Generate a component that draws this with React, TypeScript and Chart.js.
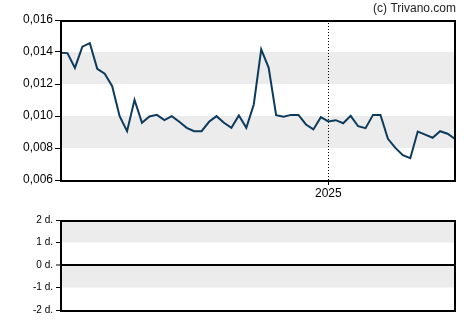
import React, { useEffect, useRef } from "react";
import { Chart, registerables } from "chart.js";

Chart.register(...registerables);

// Weekly closing prices
const priceValues: number[] = [
  0.01395, 0.01393, 0.01301, 0.01433, 0.01455, 0.01295, 0.01264, 0.01186, 0.00999, 0.00905,
  0.01101, 0.00958, 0.00997, 0.01007, 0.00974, 0.00999, 0.00964, 0.00926, 0.00905, 0.00905,
  0.00964, 0.00999, 0.00958, 0.00926, 0.01003, 0.00926, 0.01072, 0.01416, 0.01301, 0.01005,
  0.00995, 0.01007, 0.01007, 0.00947, 0.00916, 0.00993, 0.00966, 0.00974, 0.00955, 0.01001,
  0.00936, 0.00924, 0.01007, 0.01007, 0.00857, 0.00801, 0.00755, 0.00736, 0.00903, 0.00884,
  0.00864, 0.00905, 0.00889, 0.00857,
];
const xTickPositions: number[] = [36];
const xTickLabels: string[] = ["2025"];
const priceBands: [number, number][] = [
  [0.012, 0.014],
  [0.008, 0.01],
];
const lowerBands: [number, number][] = [
  [1, 2],
  [-1, 0],
];
const watermark = "(c) Trivano.com";

const FONT = "'Liberation Sans', Arial, sans-serif";

const bandsPlugin = (bands: [number, number][]) => ({
  id: "bands",
  beforeDraw(chart: any) {
    const { ctx, chartArea } = chart;
    const y = chart.scales.y;
    ctx.save();
    ctx.fillStyle = "#ececec";
    for (const [a, b] of bands) {
      const y1 = y.getPixelForValue(b);
      const y2 = y.getPixelForValue(a);
      ctx.fillRect(chartArea.left, y1, chartArea.right - chartArea.left, y2 - y1);
    }
    ctx.restore();
  },
});

const framePlugin = {
  id: "frame",
  afterDraw(chart: any) {
    const { ctx, chartArea } = chart;
    ctx.save();
    ctx.strokeStyle = "#000";
    ctx.lineWidth = 2;
    const l = Math.round(chartArea.left) + 1;
    const t = Math.round(chartArea.top) + 1;
    const r = Math.round(chartArea.right);
    const b = Math.round(chartArea.bottom) + 1;
    ctx.strokeRect(l, t, r - l, b - t);
    ctx.restore();
  },
};

const watermarkPlugin = {
  id: "watermark",
  afterDraw(chart: any) {
    const { ctx, chartArea } = chart;
    ctx.save();
    ctx.fillStyle = "#222";
    ctx.font = `12px ${FONT}`;
    ctx.textAlign = "right";
    ctx.textBaseline = "middle";
    ctx.fillText(watermark, chartArea.right + 1, 9);
    ctx.restore();
  },
};

export default function App() {
  const topRef = useRef<HTMLCanvasElement>(null);
  const botRef = useRef<HTMLCanvasElement>(null);

  useEffect(() => {
    const top = new Chart(topRef.current!, {
      type: "line",
      data: {
        datasets: [
          {
            data: priceValues.map((v, i) => ({ x: i, y: v })),
            borderColor: "#0d3b5c",
            borderWidth: 2,
            pointRadius: 0,
            tension: 0,
            fill: false,
          },
        ],
      },
      options: {
        animation: false,
        responsive: false,
        layout: { padding: { left: 0, right: 15, top: 20, bottom: 0 } },
        plugins: { legend: { display: false }, tooltip: { enabled: false } },
        scales: {
          x: {
            type: "linear",
            min: 0,
            max: priceValues.length - 1,
            afterBuildTicks: (s: any) => {
              s.ticks = xTickPositions.map((v) => ({ value: v }));
            },
            afterFit: (s: any) => {
              s.height = 20;
            },
            ticks: {
              autoSkip: false,
              maxRotation: 0,
              padding: 1,
              color: "#000",
              font: { family: FONT, size: 12 },
              callback: (v: any) => {
                const i = xTickPositions.indexOf(Number(v));
                return i >= 0 ? xTickLabels[i] : "";
              },
            },
            grid: { color: "#000", lineWidth: 1, drawTicks: true, tickLength: 5 },
            border: { display: true, color: "#000", dash: [1, 2] },
          },
          y: {
            min: 0.006,
            max: 0.016,
            afterFit: (s: any) => {
              s.width = 60;
            },
            ticks: {
              stepSize: 0.002,
              padding: 2,
              color: "#000",
              font: { family: FONT, size: 12 },
              callback: (v: any) => Number(v).toFixed(3).replace(".", ","),
            },
            grid: { drawOnChartArea: false, drawTicks: true, tickLength: 5, color: "#000" },
            border: { display: true, color: "#000" },
          },
        },
      },
      plugins: [bandsPlugin(priceBands), framePlugin, watermarkPlugin],
    } as any);

    const bot = new Chart(botRef.current!, {
      type: "line",
      data: { datasets: [] },
      options: {
        animation: false,
        responsive: false,
        layout: { padding: { left: 0, right: 15, top: 20, bottom: 15 } },
        plugins: { legend: { display: false }, tooltip: { enabled: false } },
        scales: {
          x: { type: "linear", min: 0, max: priceValues.length - 1, display: false },
          y: {
            min: -2,
            max: 2,
            afterFit: (s: any) => {
              s.width = 60;
            },
            ticks: {
              stepSize: 1,
              padding: 3,
              color: "#000",
              font: { family: FONT, size: 10 },
              callback: (v: any) => `${v} d.`,
            },
            grid: {
              drawOnChartArea: true,
              drawTicks: true,
              tickLength: 4,
              tickColor: "#000",
              tickWidth: 1,
              lineWidth: (c: any) => (c.tick && c.tick.value === 0 ? 2 : 1),
              color: (c: any) => (c.tick && c.tick.value === 0 ? "#000" : "rgba(0,0,0,0)"),
            },
            border: { display: true, color: "#000" },
          },
        },
      },
      plugins: [bandsPlugin(lowerBands), framePlugin],
    } as any);

    return () => {
      top.destroy();
      bot.destroy();
    };
  }, []);

  return (
    <div style={{ position: "absolute", left: 0, top: 0, width: 470, height: 325, background: "#fff" }}>
      <canvas ref={topRef} width={470} height={200} style={{ position: "absolute", left: 0, top: 0 }} />
      <canvas ref={botRef} width={470} height={125} style={{ position: "absolute", left: 0, top: 200 }} />
    </div>
  );
}
